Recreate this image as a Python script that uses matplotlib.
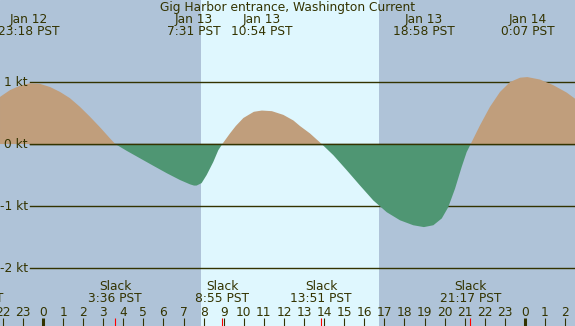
import matplotlib
matplotlib.use("Agg")
import matplotlib.pyplot as plt

# current speed (kt), hours since Jan 13 00:00 PST
hours = [-2.14, -1.64, -1.15, -0.65, -0.15, 0.35, 0.85, 1.34, 1.84, 2.34,
         2.84, 3.34, 3.6,
         4.17, 4.83, 5.49, 6.16, 6.82, 7.32, 7.52, 7.65, 7.9, 8.15, 8.48,
         8.73, 8.93,
         9.31, 9.6, 9.98, 10.5, 10.9, 11.4, 11.97, 12.47, 12.8, 13.3, 13.88,
         14.46, 15.12, 15.79, 16.45, 17.12, 17.78, 18.44, 18.97, 19.44,
         19.86, 20.18, 20.52, 20.85, 21.1, 21.3,
         21.76, 22.26, 22.76, 23.26, 23.76, 24.12, 24.75, 25.41, 26.08, 26.5]
speed = [0.76, 0.87, 0.94, 0.98, 0.97, 0.92, 0.84, 0.74, 0.60, 0.44,
         0.27, 0.09, 0.0,
         -0.11, -0.23, -0.35, -0.47, -0.58, -0.65, -0.67, -0.67, -0.63, -0.50,
         -0.29, -0.10, 0.0,
         0.17, 0.29, 0.42, 0.52, 0.54, 0.53, 0.47, 0.38, 0.29, 0.17, 0.0,
         -0.18, -0.42, -0.67, -0.91, -1.10, -1.23, -1.31, -1.34, -1.31,
         -1.20, -1.02, -0.72, -0.37, -0.13, 0.0,
         0.30, 0.60, 0.84, 1.00, 1.07, 1.08, 1.04, 0.95, 0.83, 0.73]

# max current events (top) and slack events (bottom)
max_times = [-0.7, 7.52, 10.9, 18.97, 24.12]
max_dates = ["Jan 12", "Jan 13", "Jan 13", "Jan 13", "Jan 14"]
max_labels = ["23:18 PST", "7:31 PST", "10:54 PST", "18:58 PST", "0:07 PST"]
slack_times = [-3.5, 3.6, 8.92, 13.85, 21.28]
slack_labels = ["20:30 PST", "3:36 PST", "8:55 PST", "13:51 PST", "21:17 PST"]

sunrise, sunset = 7.87, 16.73
kt_levels = [1, 0, -1, -2]
hour_ticks = list(range(-2, 27))

night = "#afc3d8"
day = "#dff7fe"
flood = "#c09e7c"
ebb = "#4f9673"
ink = "#333300"

W, H = 575, 326
fig = plt.figure(figsize=(W / 100, H / 100), dpi=100)
ax = fig.add_axes([0, 0, 1, 1])
ax.set_xlim(-2.141, 26.494)
ax.set_ylim(-2.935, 2.323)
ax.axis("off")
ax.add_patch(plt.Rectangle((0, 0), 1, 1, transform=ax.transAxes,
                           color=night, zorder=0))
ax.axvspan(sunrise, sunset, color=day, zorder=0.5, lw=0)

for lv in kt_levels:
    ax.axhline(lv, xmin=30 / W, xmax=1, color=ink, lw=1, zorder=1)
    ax.text(28 / W, lv, f"{lv} kt", transform=ax.get_yaxis_transform(),
            ha="right", va="center", fontsize=8.8, color=ink, zorder=3)

ax.fill_between(hours, speed, 0, where=[s >= 0 for s in speed],
                interpolate=True, color=flood, lw=0, zorder=2)
ax.fill_between(hours, speed, 0, where=[s <= 0 for s in speed],
                interpolate=True, color=ebb, lw=0, zorder=2)
ax.axhline(0, xmin=30 / W, xmax=1, color=ink, lw=1, zorder=2.5)

tx = ax.get_xaxis_transform()
ax.text(0.5, 1 - 7.5 / H, "Gig Harbor entrance, Washington Current",
        transform=ax.transAxes, ha="center", va="center", fontsize=8.8, color=ink)
for t, d, l in zip(max_times, max_dates, max_labels):
    ax.text(t, 1 - 19.5 / H, d, transform=tx, ha="center", va="center",
            fontsize=8.8, color=ink)
    ax.text(t, 1 - 31.5 / H, l, transform=tx, ha="center", va="center",
            fontsize=8.8, color=ink)

for t, l in zip(slack_times, slack_labels):
    ax.text(t, 1 - 287 / H, "Slack", transform=tx, ha="center", va="center",
            fontsize=8.8, color=ink)
    ax.text(t, 1 - 299 / H, l, transform=tx, ha="center", va="center",
            fontsize=8.8, color=ink)

for h in hour_ticks:
    ax.text(h, 1 - 312 / H, str(h % 24), transform=tx, ha="center",
            va="center", fontsize=8.8, color=ink)
    ax.vlines(h, 0, 8 / H, transform=tx, color=ink,
              lw=2.2 if h % 24 == 0 else 0.8)
ax.vlines(slack_times, 0, 8 / H, transform=tx, color="red", lw=0.8)

fig.savefig("out.png", dpi=100)
